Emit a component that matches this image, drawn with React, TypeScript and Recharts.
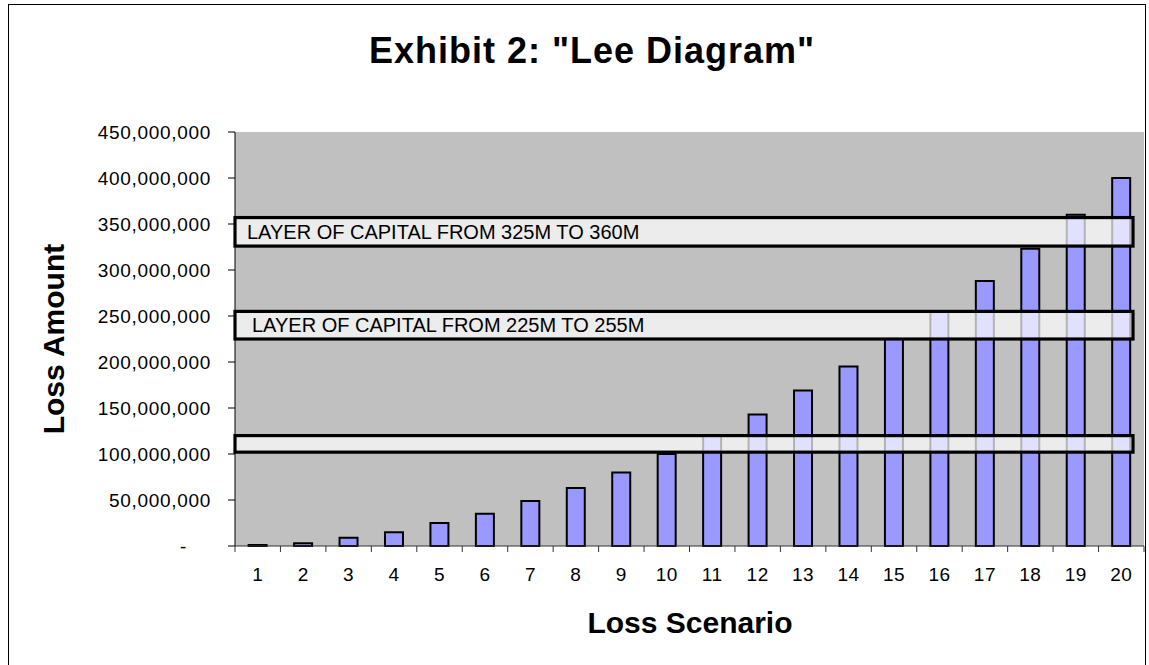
import { Bar, BarChart, CartesianGrid, ReferenceArea, XAxis, YAxis } from 'recharts'

const scenarios = ['1', '2', '3', '4', '5', '6', '7', '8', '9', '10', '11', '12', '13', '14', '15', '16', '17', '18', '19', '20']
const lossAmounts = [
  1e6, 3e6, 9e6, 15e6, 25e6, 35e6, 49e6, 63e6, 80e6, 100e6, 120e6, 143e6, 169e6, 195e6, 225e6, 255e6, 288e6, 323e6,
  360e6, 400e6,
]
const yTicks = [0, 50e6, 100e6, 150e6, 200e6, 250e6, 300e6, 350e6, 400e6, 450e6]

// capital layers, as drawn (bottom / top of each box)
const layerFrom = [326e6, 225e6, 102e6]
const layerTo = [357e6, 255e6, 120e6]
const layerLabels = ['LAYER OF CAPITAL FROM 325M TO 360M', 'LAYER OF CAPITAL FROM 225M TO 255M', '']

const W = 1149
const H = 665
const margin = { top: 132, right: 5, bottom: 19, left: 95 }
const Y_AXIS_W = 140
const X_AXIS_H = 100
const PLOT_W = W - margin.left - Y_AXIS_W - margin.right
const AXIS_Y = H - margin.bottom - X_AXIS_H
const BAND = PLOT_W / scenarios.length
const FONT = '"Liberation Sans", Arial, sans-serif'
const BOX_FILL = 'rgba(255,255,255,0.7)'

const data = scenarios.map((s, i) => ({ scenario: s, loss: lossAmounts[i] }))

function YTick(props: any) {
  const { x, y, payload } = props
  const v = payload.value as number
  const zero = v === 0
  return (
    <text
      x={zero ? x - 24 : x}
      y={y}
      dy="0.355em"
      textAnchor="end"
      fontSize={19}
      letterSpacing={0.7}
      fill="#000"
      fontFamily={FONT}
    >
      {zero ? '-' : v.toLocaleString('en-US')}
    </text>
  )
}

function XTick(props: any) {
  const { x, payload, index } = props
  return (
    <g>
      <line x1={x + BAND / 2} x2={x + BAND / 2} y1={AXIS_Y} y2={AXIS_Y + 6} stroke="#333" />
      {index === 0 && <line x1={x - BAND / 2} x2={x - BAND / 2} y1={AXIS_Y} y2={AXIS_Y + 6} stroke="#333" />}
      <text x={x} y={AXIS_Y + 35} textAnchor="middle" fontSize={19} letterSpacing={0.5} fill="#000" fontFamily={FONT}>
        {payload.value}
      </text>
    </g>
  )
}

// Excel text box: stops a little short of the plot's right edge
function LayerBox(props: any) {
  const { x, y, width, height } = props
  return <rect x={x} y={y} width={width - 11} height={height} fill={BOX_FILL} stroke="#000" strokeWidth={3.2} />
}

const layerLabel = (text: string, offset: number) =>
  text ? { value: text, position: 'insideLeft' as const, offset, fontSize: 20, fill: '#000', fontFamily: FONT } : undefined

export default function App() {
  return (
    <div
      style={{
        position: 'absolute',
        left: 0,
        top: 0,
        width: W,
        height: H,
        overflow: 'hidden',
        background: '#fff',
        fontFamily: FONT,
      }}
    >
      <div
        style={{
          position: 'absolute',
          left: 8,
          top: 4,
          width: 1138,
          height: 700,
          border: '1px solid #000',
          boxSizing: 'border-box',
        }}
      />
      <div
        style={{
          position: 'absolute',
          left: 592 - 300,
          top: 30,
          width: 600,
          textAlign: 'center',
          fontSize: 36,
          fontWeight: 'bold',
          letterSpacing: 1,
          lineHeight: 'normal',
        }}
      >
        Exhibit 2: "Lee Diagram"
      </div>
      <div
        style={{
          position: 'absolute',
          left: 54 - 150,
          top: 338.5 - 15,
          width: 300,
          height: 30,
          lineHeight: '30px',
          textAlign: 'center',
          fontSize: 30,
          fontWeight: 'bold',
          transform: 'rotate(-90deg)',
          transformOrigin: 'center',
        }}
      >
        Loss Amount
      </div>
      <div
        style={{
          position: 'absolute',
          left: 690 - 200,
          top: 633 - 27.2,
          width: 400,
          textAlign: 'center',
          fontSize: 30,
          fontWeight: 'bold',
          lineHeight: 'normal',
        }}
      >
        Loss Scenario
      </div>
      <div style={{ position: 'absolute', left: 0, top: 0 }}>
        <BarChart width={W} height={H} data={data} margin={margin} barCategoryGap="30%" style={{ fontFamily: FONT }}>
          <CartesianGrid horizontal={false} vertical={false} fill="#c0c0c0" stroke="none" />
          <XAxis
            dataKey="scenario"
            height={X_AXIS_H}
            tickLine={false}
            axisLine={{ stroke: '#333' }}
            tick={<XTick />}
            interval={0}
          />
          <YAxis
            width={Y_AXIS_W}
            domain={[0, 450e6]}
            ticks={yTicks}
            tickSize={7}
            tickMargin={17}
            tickLine={{ stroke: '#000' }}
            axisLine={{ stroke: '#000' }}
            tick={<YTick />}
            interval={0}
          />
          <Bar dataKey="loss" fill="#9999ff" stroke="#000" strokeWidth={2} isAnimationActive={false} />
          <ReferenceArea
            y1={layerFrom[0]}
            y2={layerTo[0]}
            shape={<LayerBox />}
            zIndex={400}
            label={layerLabel(layerLabels[0], 12)}
          />
          <ReferenceArea
            y1={layerFrom[1]}
            y2={layerTo[1]}
            shape={<LayerBox />}
            zIndex={400}
            label={layerLabel(layerLabels[1], 17)}
          />
          <ReferenceArea y1={layerFrom[2]} y2={layerTo[2]} shape={<LayerBox />} zIndex={400} />
        </BarChart>
      </div>
    </div>
  )
}
